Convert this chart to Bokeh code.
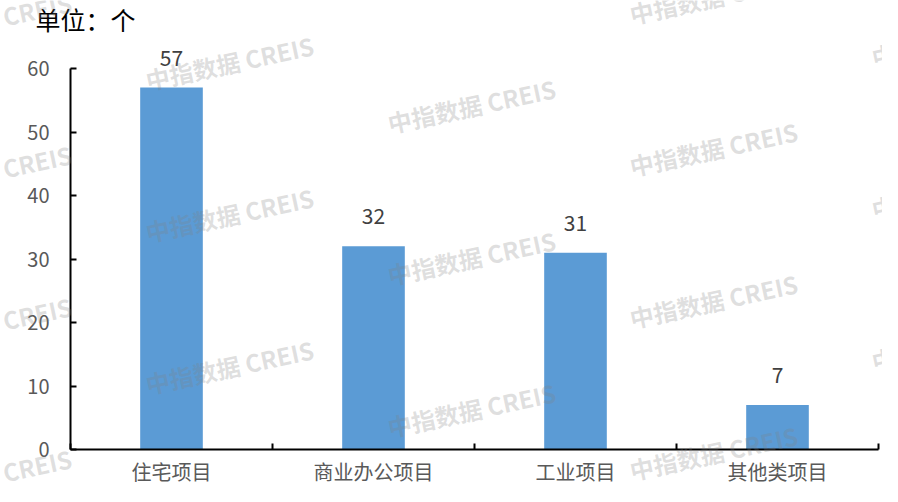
from bokeh.plotting import figure
from bokeh.models import FixedTicker, Label, ColumnDataSource, Range1d, LinearAxis
from bokeh.core.properties import value
from bokeh.embed import file_html
from bokeh.resources import INLINE

categories = ["住宅项目", "商业办公项目", "工业项目", "其他类项目"]
counts = [57, 32, 31, 7]
y_ticks = [0, 10, 20, 30, 40, 50, 60]

FONT = "Noto Sans CJK SC"
W, H = 882, 486

# layout targets in pixels (plot area box inside the canvas)
PX_L, PX_R, PX_T, PX_B = 70, 878, 68, 449
n = len(categories)
Y_MAX = y_ticks[-1]
xu = (PX_R - PX_L) / n
yu = (PX_B - PX_T) / Y_MAX
x_range = Range1d(-PX_L / xu, n + (W - PX_R) / xu)
y_range = Range1d(-(H - PX_B) / yu, Y_MAX + PX_T / yu)

xs = [i + 0.5 for i in range(n)]
src = ColumnDataSource(dict(x=xs, top=counts, lab=[str(c) for c in counts]))

p = figure(width=W, height=H, output_backend="svg", toolbar_location=None, title=None,
           x_range=x_range, y_range=y_range, x_axis_location=None, y_axis_location=None,
           min_border=0)
p.outline_line_color = None
p.xgrid.visible = False
p.ygrid.visible = False
p.background_fill_color = "white"
p.border_fill_color = "white"

p.vbar(x="x", top="top", width=0.31, source=src, color="#5B9BD5", line_color=None)
p.text(x="x", y="top", text="lab", source=src, text_align="center", text_baseline="bottom",
       y_offset=-22, text_font=value(FONT), text_font_size="21px", text_color="#404040")

xaxis = LinearAxis(fixed_location=0, bounds=(0, n))
xaxis.ticker = FixedTicker(ticks=xs, minor_ticks=list(range(n + 1)))
xaxis.major_label_overrides = {x: c for x, c in zip(xs, categories)}
xaxis.major_tick_line_color = None
xaxis.minor_tick_in = 6
xaxis.minor_tick_out = 0
xaxis.minor_tick_line_color = "black"
xaxis.minor_tick_line_width = 2
xaxis.major_label_standoff = 1
xaxis.major_label_text_font_size = "20px"

yaxis = LinearAxis(fixed_location=0, bounds=(0, Y_MAX))
yaxis.ticker = FixedTicker(ticks=y_ticks, minor_ticks=[])
yaxis.major_tick_in = 6
yaxis.major_tick_out = 0
yaxis.major_tick_line_width = 2
yaxis.major_label_standoff = 21
yaxis.major_label_text_font_size = "20px"

for ax in (xaxis, yaxis):
    ax.axis_line_color = "black"
    ax.axis_line_width = 2
    ax.major_label_text_font = FONT
    ax.major_label_text_color = "#595959"
p.add_layout(xaxis, "below")
p.add_layout(yaxis, "left")

p.add_layout(Label(x=35, y=H, x_units="screen", y_units="screen", text="单位：个",
                   text_font=FONT, text_font_size="25px", text_color="black",
                   text_baseline="top", text_align="left"))

# watermarks (decoration, drawn on top like the original)
for i in range(-1, 4):
    cx = 229 + 242 * i
    base = 62 + 43 * i
    for k in range(-1, 4):
        cy = base + 152 * k
        if -30 < cy < H + 30:
            p.add_layout(Label(x=cx, y=H - cy, x_units="screen", y_units="screen",
                               text="中指数据 CREIS", text_font=FONT, text_font_style="bold",
                               text_font_size="24px", text_color="#808080", text_alpha=0.25,
                               text_align="center", text_baseline="middle",
                               angle=0.21, level="overlay"))

open("out.html", "w").write(file_html(p, INLINE))
